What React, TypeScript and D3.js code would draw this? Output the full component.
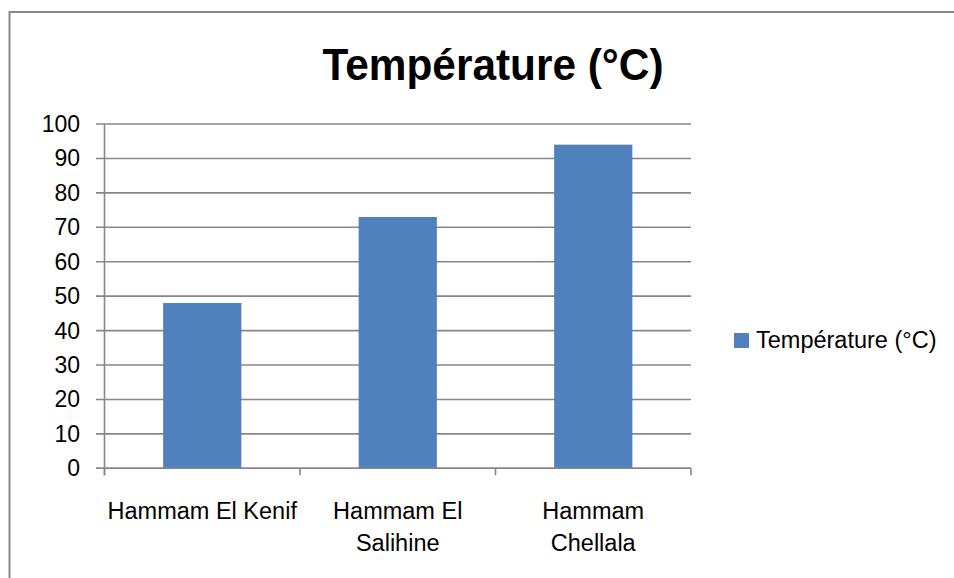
import React from "react";
import * as d3 from "d3";

const categories: string[][] = [["Hammam El Kenif"], ["Hammam El", "Salihine"], ["Hammam", "Chellala"]];
const categoryKeys = ["Hammam El Kenif", "Hammam El Salihine", "Hammam Chellala"];
const values = [48, 73, 94];
const yTicks = [0, 10, 20, 30, 40, 50, 60, 70, 80, 90, 100];
const title = "Température (°C)";
const seriesName = "Température (°C)";

const W = 954;
const H = 578;
const FONT = "'Liberation Sans', Arial, sans-serif";
const GRID = "#878787";
const BAR = "#4F81BD";

export default function App() {
  const x = d3.scaleBand<string>().domain(categoryKeys).range([104.5, 691]).paddingInner(0).paddingOuter(0);
  const y = d3.scaleLinear().domain([0, 100]).range([468.3, 124]);
  const bw = x.bandwidth() * 0.4;

  return (
    <div style={{ position: "fixed", left: 0, top: 0 }}>
      <svg width={W} height={H} style={{ display: "block", background: "#fff" }}>
        <rect x={9.5} y={12} width={W + 20} height={H + 20} fill="#fff" stroke={GRID} strokeWidth={2} />
        <text
          x={493}
          y={80}
          textAnchor="middle"
          fontFamily={FONT}
          fontWeight="bold"
          fontSize={45}
          textLength={341}
          lengthAdjust="spacingAndGlyphs"
          fill="#000"
        >
          {title}
        </text>
        {yTicks.map((t) => (
          <g key={t}>
            <line x1={96} x2={691} y1={y(t)} y2={y(t)} stroke={GRID} strokeWidth={1.6} />
            <text x={80} y={y(t)} dy="0.35em" textAnchor="end" fontFamily={FONT} fontSize={23} fill="#000">
              {t}
            </text>
          </g>
        ))}
        <line x1={104.5} x2={104.5} y1={y(100)} y2={y(0) + 7} stroke={GRID} strokeWidth={1.6} />
        {[...categoryKeys.map((c) => x(c) as number), 691].map((px, i) => (
          <line key={i} x1={px} x2={px} y1={y(0)} y2={y(0) + 7} stroke={GRID} strokeWidth={1.6} />
        ))}
        {values.map((v, i) => {
          const cx = (x(categoryKeys[i]) as number) + x.bandwidth() / 2;
          return <rect key={i} x={cx - bw / 2} y={y(v)} width={bw} height={y(0) - y(v)} fill={BAR} />;
        })}
        <line x1={96} x2={691} y1={y(0)} y2={y(0)} stroke={GRID} strokeWidth={1.6} />
        {categories.map((lines, i) => {
          const cx = (x(categoryKeys[i]) as number) + x.bandwidth() / 2;
          return (
            <text key={i} textAnchor="middle" fontFamily={FONT} fontSize={23.5} fill="#000">
              {lines.map((l, j) => (
                <tspan key={j} x={cx} y={519.3 + j * 31.7}>
                  {l}
                </tspan>
              ))}
            </text>
          );
        })}
        <rect x={734} y={333} width={15} height={15} fill={BAR} />
        <text x={756} y={348} fontFamily={FONT} fontSize={23.5} fill="#000">
          {seriesName}
        </text>
      </svg>
    </div>
  );
}
